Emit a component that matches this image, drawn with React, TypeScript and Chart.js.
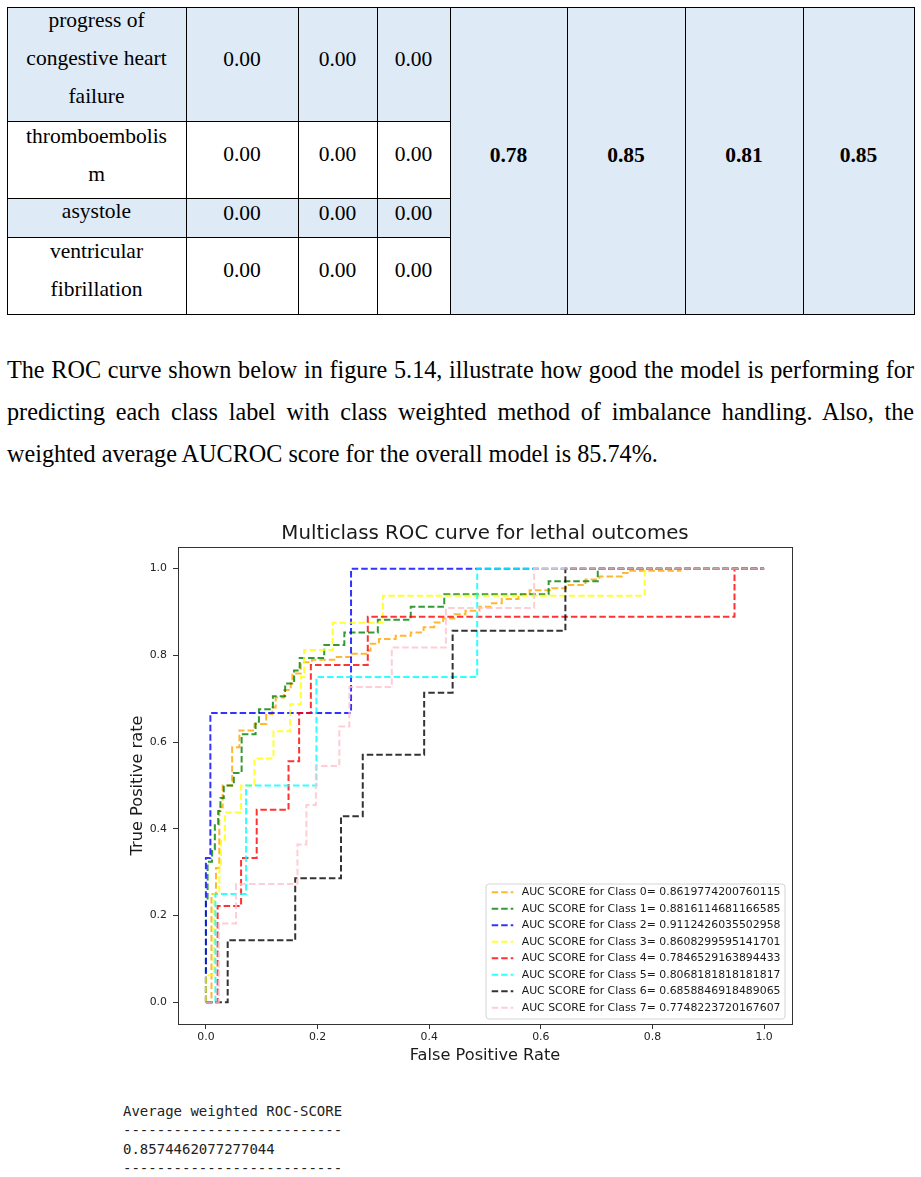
import React, { useEffect, useRef } from "react";
import { Chart, registerables } from "chart.js";

Chart.register(...registerables);

// ---------------- Table data ----------------
const tableRowLabels = [
  ["progress of", "congestive heart", "failure"],
  ["thromboembolis", "m"],
  ["asystole"],
  ["ventricular", "fibrillation"],
];
const precisionVals = ["0.00", "0.00", "0.00", "0.00"];
const recallVals = ["0.00", "0.00", "0.00", "0.00"];
const f1Vals = ["0.00", "0.00", "0.00", "0.00"];
const overallScores = ["0.78", "0.85", "0.81", "0.85"];

// ---------------- Paragraph ----------------
const paragraphLines = [
  "The ROC curve shown below in figure 5.14, illustrate how good the model is performing for",
  "predicting each class label with class weighted method of imbalance handling. Also, the",
  "weighted average AUCROC score for the overall model is 85.74%.",
];

// ---------------- Chart data ----------------
const chartTitle = "Multiclass ROC curve for lethal outcomes";
const xAxisTitle = "False Positive Rate";
const yAxisTitle = "True Positive rate";
const axisTicks = [0, 0.2, 0.4, 0.6, 0.8, 1.0];
const classIds = [0, 1, 2, 3, 4, 5, 6, 7];
const aucScores = [
  "0.8619774200760115",
  "0.8816114681166585",
  "0.9112426035502958",
  "0.8608299595141701",
  "0.7846529163894433",
  "0.8068181818181817",
  "0.6858846918489065",
  "0.7748223720167607",
];
const lineColors = [
  "rgba(255,165,0,0.8)",
  "rgba(0,128,0,0.8)",
  "rgba(0,0,255,0.8)",
  "rgba(255,255,0,0.8)",
  "rgba(255,0,0,0.8)",
  "rgba(0,255,255,0.8)",
  "rgba(0,0,0,0.8)",
  "rgba(255,192,203,0.8)",
];

// Each curve: false-positive rate at which the curve jumps, and the TPR level reached.
const fpr0 = [0.01, 0.018, 0.024, 0.03, 0.047, 0.06, 0.087, 0.108, 0.119, 0.125, 0.14, 0.152, 0.155, 0.17, 0.19, 0.23, 0.26, 0.29, 0.295, 0.31, 0.34, 0.367, 0.39, 0.409, 0.425, 0.445, 0.465, 0.49, 0.51, 0.53, 0.56, 0.58, 0.62, 0.645, 0.68, 0.705, 0.745, 0.76, 0.85];
const tpr0 = [0.25, 0.31, 0.45, 0.5, 0.588, 0.627, 0.642, 0.665, 0.68, 0.703, 0.72, 0.735, 0.758, 0.784, 0.79, 0.796, 0.804, 0.811, 0.827, 0.838, 0.845, 0.853, 0.865, 0.876, 0.885, 0.895, 0.903, 0.912, 0.92, 0.93, 0.94, 0.95, 0.955, 0.962, 0.975, 0.982, 0.99, 0.995, 1];
const fpr1 = [0, 0.003, 0.011, 0.016, 0.022, 0.026, 0.032, 0.05, 0.064, 0.089, 0.095, 0.12, 0.142, 0.158, 0.168, 0.212, 0.248, 0.308, 0.367, 0.427, 0.614, 0.702];
const tpr1 = [0.235, 0.324, 0.353, 0.412, 0.441, 0.471, 0.5, 0.529, 0.618, 0.647, 0.676, 0.706, 0.735, 0.765, 0.794, 0.824, 0.853, 0.882, 0.912, 0.941, 0.971, 1];
const fpr2 = [0, 0.008, 0.26];
const tpr2 = [0.333, 0.667, 1];
const fpr3 = [0, 0.014, 0.024, 0.027, 0.034, 0.063, 0.087, 0.121, 0.151, 0.17, 0.176, 0.227, 0.317, 0.786];
const tpr3 = [0.0625, 0.25, 0.3125, 0.375, 0.4375, 0.5, 0.5625, 0.625, 0.6875, 0.75, 0.8125, 0.875, 0.9375, 1];
const fpr4 = [0.021, 0.063, 0.091, 0.148, 0.167, 0.188, 0.29, 0.947];
const tpr4 = [0.222, 0.333, 0.444, 0.556, 0.667, 0.778, 0.889, 1];
const fpr5 = [0.017, 0.072, 0.198, 0.486];
const tpr5 = [0.25, 0.5, 0.75, 1];
const fpr6 = [0.039, 0.16, 0.242, 0.281, 0.391, 0.442, 0.644];
const tpr6 = [0.143, 0.286, 0.429, 0.571, 0.714, 0.857, 1];
const fpr7 = [0.023, 0.054, 0.164, 0.18, 0.197, 0.239, 0.257, 0.333, 0.43, 0.588];
const tpr7 = [0.182, 0.273, 0.364, 0.455, 0.545, 0.636, 0.727, 0.818, 0.909, 1];

const classFpr = [fpr0, fpr1, fpr2, fpr3, fpr4, fpr5, fpr6, fpr7];
const classTpr = [tpr0, tpr1, tpr2, tpr3, tpr4, tpr5, tpr6, tpr7];

// ---------------- Console output ----------------
const outputLines = [
  "Average weighted ROC-SCORE",
  "--------------------------",
  "0.8574462077277044",
  "--------------------------",
];

// ---------------- helpers ----------------
function buildCurve(fpr: number[], tpr: number[]) {
  const pts = [{ x: 0, y: 0 }];
  let prev = 0;
  for (let i = 0; i < fpr.length; i++) {
    pts.push({ x: fpr[i], y: prev });
    pts.push({ x: fpr[i], y: tpr[i] });
    prev = tpr[i];
  }
  pts.push({ x: 1, y: prev });
  return pts;
}

const SERIF = '"Liberation Serif", "Times New Roman", serif';
const SANS = '"DejaVu Sans", sans-serif';

function baselineTop(baseline: number, fs: number, lh: number) {
  return baseline - (lh / 2 + 0.3375 * fs);
}

function TextLine(props: any) {
  const { text, left, width, baseline, fs, lh, bold, align, last } = props;
  return (
    <div
      style={{
        position: "absolute",
        left,
        width,
        top: baselineTop(baseline, fs, lh),
        height: lh,
        lineHeight: lh + "px",
        fontSize: fs,
        fontFamily: SERIF,
        fontWeight: bold ? "bold" : "normal",
        textAlign: align || "center",
        textAlignLast: last || "auto",
        whiteSpace: align === "justify" ? "normal" : "nowrap",
        color: "#000",
      }}
    >
      {text}
    </div>
  );
}

const framePlugin = {
  id: "frameBox",
  afterDatasetsDraw(chart: any) {
    const { ctx, chartArea } = chart;
    ctx.save();
    ctx.strokeStyle = "#333";
    ctx.lineWidth = 1;
    ctx.strokeRect(
      Math.round(chartArea.left) + 0.5,
      Math.round(chartArea.top) + 0.5,
      Math.round(chartArea.right - chartArea.left),
      Math.round(chartArea.bottom - chartArea.top)
    );
    ctx.restore();
  },
};

const legendPlugin = {
  id: "insideLegend",
  afterDatasetsDraw(chart: any) {
    const { ctx, chartArea } = chart;
    const ds = chart.data.datasets;
    ctx.save();
    ctx.font = '10.9px "DejaVu Sans"';
    let maxW = 0;
    ds.forEach((d: any) => {
      maxW = Math.max(maxW, ctx.measureText(d.label).width);
    });
    const rowH = 16.5;
    const boxW = 35.7 + maxW + 4.5;
    const boxH = ds.length * rowH + 3;
    const x0 = chartArea.right - 7 - boxW;
    const y0 = chartArea.bottom - 5 - boxH;
    ctx.beginPath();
    if (ctx.roundRect) ctx.roundRect(x0, y0, boxW, boxH, 3);
    else ctx.rect(x0, y0, boxW, boxH);
    ctx.fillStyle = "rgba(255,255,255,0.85)";
    ctx.fill();
    ctx.strokeStyle = "#d4d4d4";
    ctx.lineWidth = 1;
    ctx.stroke();
    ds.forEach((d: any, i: number) => {
      const cy = y0 + 8.3 + i * rowH;
      ctx.setLineDash(d.borderDash);
      ctx.strokeStyle = d.borderColor;
      ctx.lineWidth = 2;
      ctx.beginPath();
      ctx.moveTo(x0 + 5.7, cy);
      ctx.lineTo(x0 + 27.3, cy);
      ctx.stroke();
      ctx.setLineDash([]);
      ctx.fillStyle = "#1a1a1a";
      ctx.textBaseline = "middle";
      ctx.textAlign = "left";
      ctx.fillText(d.label, x0 + 35.7, cy);
    });
    ctx.restore();
  },
};

function RocChart() {
  const ref = useRef<HTMLCanvasElement | null>(null);
  useEffect(() => {
    if (!ref.current) return;
    const tickFont = { family: SANS, size: 10.9 };
    const axisTitleFont = { family: SANS, size: 16.2 };
    const chart = new Chart(ref.current, {
      type: "line",
      data: {
        datasets: classIds.map((c, i) => ({
          label: `AUC SCORE for Class ${c}= ${aucScores[i]}`,
          data: buildCurve(classFpr[i], classTpr[i]),
          borderColor: lineColors[i],
          backgroundColor: lineColors[i],
          borderWidth: 2,
          borderDash: [6.5, 3],
          pointRadius: 0,
          pointHoverRadius: 0,
          fill: false,
          tension: 0,
          order: classIds.length - 1 - i,
        })),
      },
      options: {
        animation: false,
        responsive: false,
        devicePixelRatio: 1,
        events: [],
        layout: { padding: { left: 18, right: 28, top: 0, bottom: 11 } },
        plugins: {
          legend: { display: false },
          tooltip: { enabled: false },
          title: {
            display: true,
            fullSize: false,
            text: chartTitle,
            color: "#1a1a1a",
            font: { family: SANS, size: 19.8, weight: "normal" },
            padding: { top: 12.1, bottom: 1.1 },
          },
        },
        scales: {
          x: {
            type: "linear",
            min: -0.05,
            max: 1.05,
            afterBuildTicks: (s: any) => {
              s.ticks = axisTicks.map((v) => ({ value: v }));
            },
            afterFit: (s: any) => {
              s.height = 45;
            },
            ticks: {
              callback: (v: any) => Number(v).toFixed(1),
              font: tickFont,
              color: "#222",
              padding: 2,
              maxRotation: 0,
              autoSkip: false,
            },
            grid: { drawOnChartArea: false, drawTicks: true, tickLength: 5, color: "#333" },
            border: { display: false },
            title: {
              display: true,
              text: xAxisTitle,
              color: "#1a1a1a",
              font: axisTitleFont,
              padding: { top: 0, bottom: 3.3 },
            },
          },
          y: {
            type: "linear",
            min: -0.05,
            max: 1.05,
            afterBuildTicks: (s: any) => {
              s.ticks = axisTicks.map((v) => ({ value: v }));
            },
            afterFit: (s: any) => {
              s.width = 60;
            },
            ticks: {
              callback: (v: any) => Number(v).toFixed(1),
              font: tickFont,
              color: "#222",
              padding: 6,
              autoSkip: false,
            },
            grid: { drawOnChartArea: false, drawTicks: true, tickLength: 5, color: "#333" },
            border: { display: false },
            title: {
              display: true,
              text: yAxisTitle,
              color: "#1a1a1a",
              font: axisTitleFont,
              padding: { top: 10.3, bottom: 0 },
            },
          },
        },
      } as any,
      plugins: [framePlugin, legendPlugin],
    } as any);
    return () => chart.destroy();
  }, []);
  return (
    <canvas
      ref={ref}
      width={720}
      height={570}
      style={{ position: "absolute", left: 100, top: 510, width: 720, height: 570 }}
    />
  );
}

// layout constants
const colX = [7, 186, 298, 377, 450, 567, 685, 803, 914];
const rowY = [7, 121, 198, 237, 314];
const labelBaselines = [27.5, 143, 218.5, 258];
const valueBaselines = [66, 161.7, 220, 277.7];
const shadedRows = [0, 2];
const SHADE = "#DEEAF6";

function DataTable() {
  const els: any[] = [];
  const TFS = 21.5;
  const TLH = 38;
  shadedRows.forEach((r) => {
    els.push(
      <div key={"bg" + r} style={{ position: "absolute", left: colX[0], top: rowY[r], width: colX[4] - colX[0], height: rowY[r + 1] - rowY[r], background: SHADE }} />
    );
  });
  els.push(
    <div key="bgm" style={{ position: "absolute", left: colX[4], top: rowY[0], width: colX[8] - colX[4], height: rowY[4] - rowY[0], background: SHADE }} />
  );
  tableRowLabels.forEach((lines, r) => {
    lines.forEach((t, k) => {
      els.push(
        <TextLine key={`l${r}-${k}`} text={t} left={colX[0]} width={colX[1] - colX[0]} baseline={labelBaselines[r] + k * TLH} fs={TFS} lh={TLH} />
      );
    });
    [precisionVals, recallVals, f1Vals].forEach((arr, c) => {
      els.push(
        <TextLine key={`v${r}-${c}`} text={arr[r]} left={colX[c + 1]} width={colX[c + 2] - colX[c + 1]} baseline={valueBaselines[r]} fs={TFS} lh={TLH} />
      );
    });
  });
  overallScores.forEach((t, c) => {
    els.push(
      <TextLine key={`o${c}`} text={t} left={colX[c + 4]} width={colX[c + 5] - colX[c + 4]} baseline={162.5} fs={TFS} lh={TLH} bold />
    );
  });
  // horizontal lines
  [0, 4].forEach((r) => {
    els.push(<div key={"hf" + r} style={{ position: "absolute", left: colX[0], top: rowY[r], width: colX[8] - colX[0] + 1, height: 1, background: "#000" }} />);
  });
  [1, 2, 3].forEach((r) => {
    els.push(<div key={"hi" + r} style={{ position: "absolute", left: colX[0], top: rowY[r], width: colX[4] - colX[0], height: 1, background: "#000" }} />);
  });
  colX.forEach((x, i) => {
    els.push(<div key={"v" + i} style={{ position: "absolute", left: x, top: rowY[0], width: 1, height: rowY[4] - rowY[0] + 1, background: "#000" }} />);
  });
  return <>{els}</>;
}

function Paragraph() {
  const PFS = 24.2;
  const PLH = 41.5;
  const baselines = [378, 420, 461.5];
  return (
    <>
      {paragraphLines.map((t, i) => (
        <TextLine
          key={"p" + i}
          text={t}
          left={7}
          width={907}
          baseline={baselines[i]}
          fs={PFS}
          lh={PLH}
          align={i < paragraphLines.length - 1 ? "justify" : "left"}
          last={i < paragraphLines.length - 1 ? "justify" : "auto"}
        />
      ))}
    </>
  );
}

function ConsoleOutput() {
  return (
    <div
      style={{
        position: "absolute",
        left: 123,
        top: 1102,
        fontFamily: '"DejaVu Sans Mono", monospace',
        fontSize: 14,
        lineHeight: "19px",
        color: "#222",
        whiteSpace: "pre",
      }}
    >
      {outputLines.map((l, i) => (
        <div key={i}>{l}</div>
      ))}
    </div>
  );
}

export default function App() {
  return (
    <div style={{ position: "absolute", left: 0, top: 0, width: 921, height: 1177, overflow: "hidden", background: "#fff" }}>
      <DataTable />
      <Paragraph />
      <RocChart />
      <ConsoleOutput />
    </div>
  );
}
